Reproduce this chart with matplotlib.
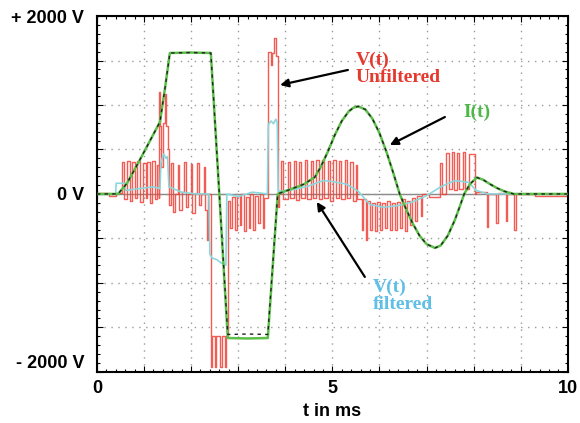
import numpy as np
import matplotlib.pyplot as plt
from matplotlib.ticker import MultipleLocator

# current I(t), measured (green) and simulated (black dashes)
i_t = [0, 0.45, 0.64, 0.9, 1.15, 1.34, 1.45, 1.55, 2.0, 2.42, 2.6, 2.78, 3.2, 3.63, 3.84,
       4.1, 4.4, 4.63, 4.75, 4.9, 5.05, 5.2, 5.35, 5.45, 5.55, 5.7, 5.85, 6.0, 6.15, 6.3,
       6.43, 6.55, 6.7, 6.85, 7.0, 7.18, 7.3, 7.45, 7.6, 7.7, 7.8, 7.92, 8.07, 8.2, 8.35,
       8.5, 8.65, 8.85, 10]
i_v = [0, 0, 120, 370, 620, 810, 1200, 1585, 1590, 1585, 0, -1620, -1625, -1620, 0,
       50, 110, 190, 300, 470, 660, 820, 930, 970, 985, 950, 847, 685, 472, 226,
       0, -151, -325, -468, -564, -607, -580, -470, -295, -150, 0, 110, 185, 160, 110,
       65, 30, 0, 0]
i_sim_v = [0, 0, 120, 370, 620, 810, 1200, 1585, 1590, 1585, 0, -1580, -1575, -1580, 0,
           50, 110, 190, 300, 470, 660, 820, 930, 970, 985, 950, 847, 685, 472, 226,
           0, -151, -325, -468, -564, -607, -580, -470, -295, -150, 0, 110, 185, 160, 110,
           65, 30, 0, 0]

# unfiltered voltage, step samples (level holds until next time)
red_t = [0.00, 0.25, 0.40, 0.53, 0.57, 0.64, 0.70, 0.74, 0.81, 0.85, 0.91, 0.98, 1.04, 1.07,
         1.13, 1.17, 1.23, 1.27, 1.31, 1.33, 1.35, 1.37, 1.40, 1.45, 1.47, 1.50, 1.53, 1.58,
         1.62, 1.66, 1.72, 1.75, 1.80, 1.86, 1.89, 1.94, 2.00, 2.03, 2.08, 2.13, 2.16, 2.22,
         2.27, 2.30, 2.34, 2.37, 2.42, 2.45, 2.50, 2.53, 2.62, 2.65, 2.72, 2.75, 2.79, 2.83,
         2.87, 2.93, 2.97, 3.03, 3.07, 3.13, 3.17, 3.22, 3.26, 3.32, 3.36, 3.42, 3.46, 3.52,
         3.55, 3.63, 3.69, 3.72, 3.76, 3.80, 3.84, 3.87, 3.92, 3.96, 4.06, 4.10, 4.18, 4.22,
         4.30, 4.34, 4.43, 4.47, 4.55, 4.59, 4.66, 4.71, 4.78, 4.83, 4.90, 4.95, 5.02, 5.07,
         5.14, 5.19, 5.26, 5.31, 5.38, 5.43, 5.50, 5.53, 5.62, 5.66, 5.71, 5.74, 5.80, 5.85,
         5.90, 5.95, 6.01, 6.05, 6.11, 6.16, 6.22, 6.27, 6.32, 6.37, 6.43, 6.48, 6.54, 6.58,
         6.65, 6.69, 6.76, 6.80, 6.88, 6.91, 7.05, 7.28, 7.32, 7.42, 7.47, 7.54, 7.58, 7.65,
         7.70, 7.77, 7.82, 7.90, 8.03, 8.06, 8.28, 8.31, 8.48, 8.51, 8.68, 8.70, 8.86, 8.89,
         9.30, 10.0]
red_v = [10, -20, 15, 360, -60, 370, -80, 360, -40, 370, -90, 350, -50, 360,
         -100, 370, -60, 330, -40, 1150, 760, 300, 800, 1120, 760, 500, -120, 350,
         -200, 0, 330, -180, 20, 360, -150, 0, 340, -210, 10, 350, -120, 0,
         300, -180, -520, 0, -1950, -1600, -1950, -1600, -1950, -1600, -1950, -1600, -80, -380,
         -30, -400, -20, -350, 0, -420, -30, -380, 0, -400, -20, -330, 0, -380,
         -40, 1600, 1450, 1580, 1750, 1550, -150, 30, 370, -60, 360, -50, 370, -70,
         360, -50, 380, -60, 370, -40, 380, -60, 380, -40, 370, -80, 380, -50,
         370, -60, 380, -40, 360, -80, 320, -60, -400, -60, -520, -80, -400, -100,
         -420, -90, -400, -100, -380, -80, -410, -100, -400, -90, -380, -60, -420, -80,
         -350, -40, -300, -20, -250, 0, -30, 350, 0, 460, 50, 470, 40, 460,
         50, 470, 60, 450, 0, 20, -370, 0, -330, 10, -300, 0, -400, 0,
         -20, 0]

# filtered voltage
cyan_t = [0, 0.40, 0.41, 0.60, 0.61, 0.9, 1.2, 1.34, 1.36, 1.42, 1.47, 1.50, 1.53, 1.8,
          2.1, 2.38, 2.40, 2.45, 2.55, 2.65, 2.74, 2.76, 3.0, 3.3, 3.62, 3.64, 3.70, 3.75,
          3.80, 3.83, 3.85, 4.2, 4.5, 4.8, 5.0, 5.3, 5.55, 5.8, 6.1, 6.4, 6.7, 7.0, 7.3,
          7.6, 7.9, 8.05, 8.3, 8.7, 10]
cyan_v = [0, 0, 120, 120, 40, 60, 80, 60, 350, 450, 400, 420, 80, 20,
          0, 0, -680, -720, -740, -780, -800, 0, -30, 20, 0, 780, 820, 790,
          840, 800, 30, 50, 90, 150, 140, 110, 30, -120, -150, -130, -90, -20, 80,
          150, 130, 40, 0, 0, 0]

fig = plt.figure(figsize=(5.8, 4.23), dpi=100)
ax = fig.add_axes([0.167, 0.121, 0.812, 0.841])

ax.axhline(0, color='#888888', lw=1.0, zorder=1)
ax.step(red_t, red_v, where='post', color='#ef4136', lw=1.0, alpha=0.85, zorder=2)
ax.plot(cyan_t, cyan_v, color='#8ad8de', lw=1.2, zorder=3)
ax.plot(i_t, i_v, color='#5cbf4a', lw=1.8, zorder=4)
ax.plot(i_t, i_sim_v, color='#222222', lw=1.0, dashes=(2.5, 3), zorder=5)

ax.set_xlim(0, 10)
ax.set_ylim(-2000, 2000)

# oscilloscope style grid and ticks
ax.xaxis.set_minor_locator(MultipleLocator(0.2))
ax.yaxis.set_minor_locator(MultipleLocator(100))
ax.tick_params(which='both', direction='in', top=True, right=True, width=0.8)
ax.tick_params(which='major', length=4)
ax.tick_params(which='minor', length=2.5)

xlab = ['0', '', '', '', '', '5', '', '', '', '', '10']
ax.set_xticks(np.arange(0, 11, 1))
ax.set_xticklabels(xlab, fontsize=13, fontweight='bold', family='Liberation Sans')
ylab = ['- 2000 V', '', '', '', '0 V', '', '', '', '+ 2000 V']
ax.set_yticks(np.arange(-2000, 2001, 500))
ax.set_yticklabels(ylab, fontsize=13, fontweight='bold', family='Liberation Sans')
ax.grid(True, which='major', color='#999999', lw=1.0, linestyle=(0, (1, 4)))
ax.tick_params(axis='x', pad=6)
ax.tick_params(axis='y', pad=9)
ax.get_yticklabels()[0].set_va('bottom')
ax.set_xlabel('t in ms', fontsize=13, fontweight='bold', family='Liberation Sans', labelpad=4)

for s in ax.spines.values():
    s.set_linewidth(1.5)

# annotations
serif = dict(family='Liberation Serif', fontweight='bold', fontsize=14)
arrow = dict(arrowstyle='-|>', color='black', lw=1.6, mutation_scale=12, shrinkA=0, shrinkB=0)
ax.annotate('', xy=(3.89, 1225), xytext=(5.33, 1394), arrowprops=arrow, zorder=6)
ax.text(5.50, 1600, 'V(t)\nUnfiltered', color='#e5392e', ha='left', va='top',
        linespacing=1.0, **serif)
ax.annotate('', xy=(6.22, 550), xytext=(7.39, 865), arrowprops=arrow, zorder=6)
ax.text(8.08, 920, 'I(t)', color='#4db848', ha='center', va='center', **serif)
ax.annotate('', xy=(4.67, -90), xytext=(5.69, -933), arrowprops=arrow, zorder=6)
ax.text(5.86, -950, 'V(t)\nfiltered', color='#5fbfe6', ha='left', va='top',
        linespacing=1.0, **serif)

plt.savefig('out.png', dpi=100)
